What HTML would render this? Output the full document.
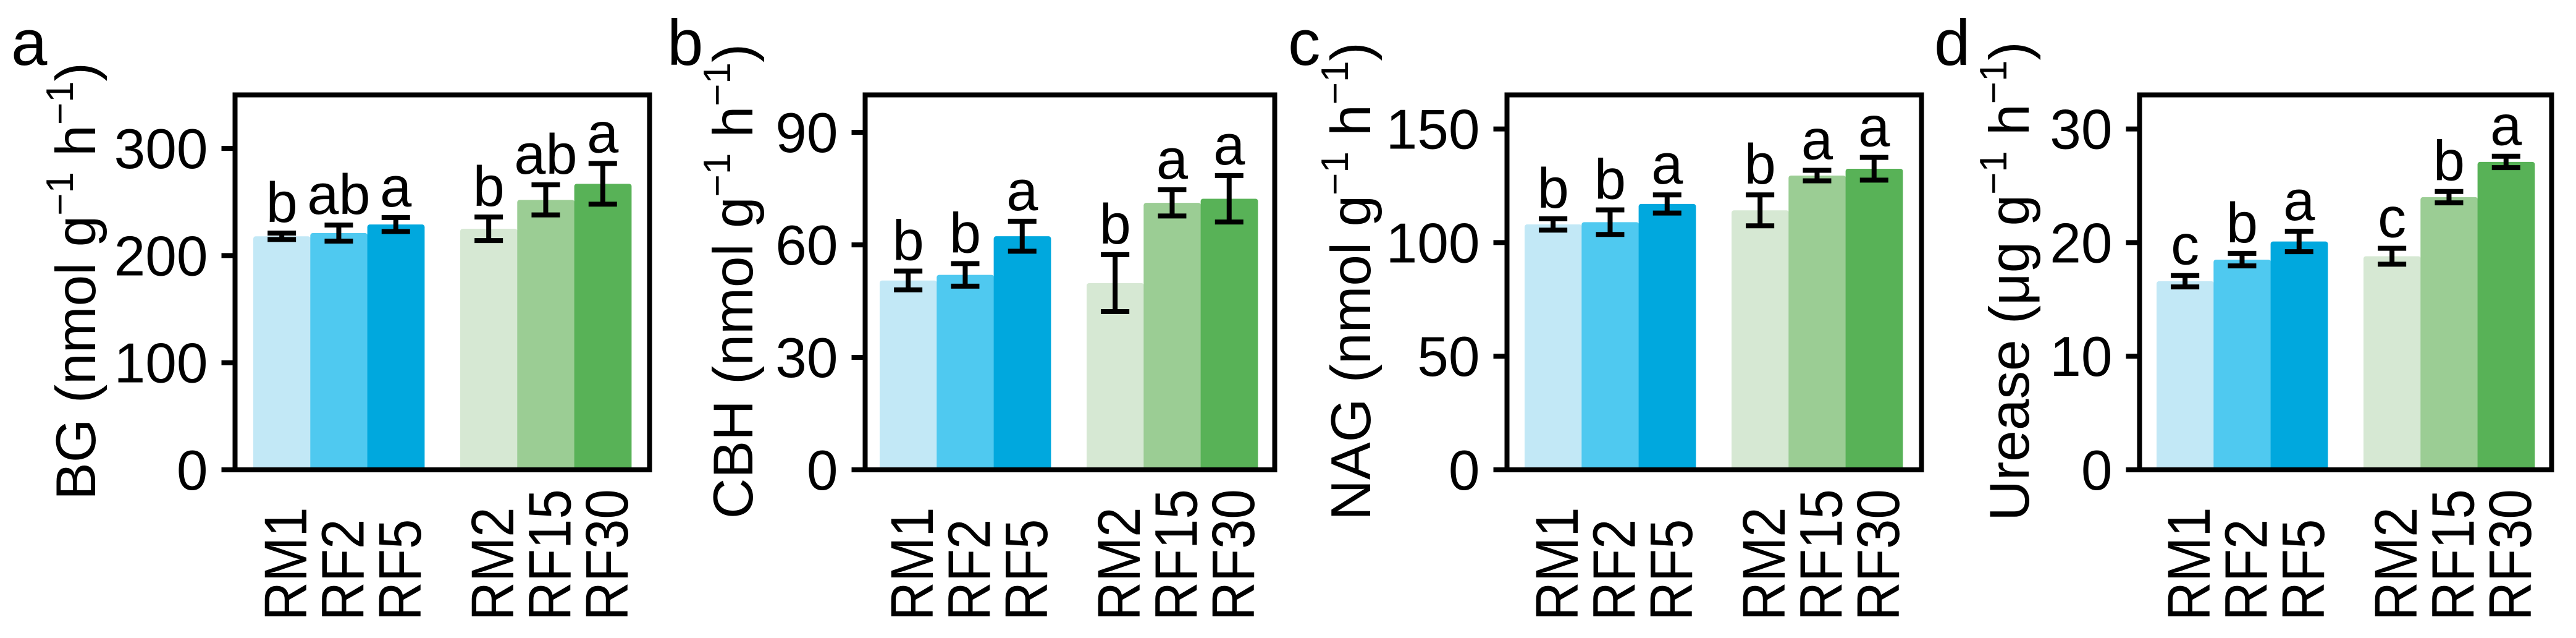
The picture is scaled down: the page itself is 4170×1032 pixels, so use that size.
<!DOCTYPE html>
<html><head><meta charset="utf-8">
<style>
html,body{margin:0;padding:0;background:#fff;}
svg{display:block;}
text{font-family:"Liberation Sans",Arial,sans-serif;fill:#000;}
</style></head>
<body>
<svg id="fig" width="4170" height="1032" viewBox="0 0 4170 1032" xmlns="http://www.w3.org/2000/svg"></svg>
<script>
const categories = ["RM1","RF2","RF5","RM2","RF15","RF30"];
const colors = ["#c2e8f6","#4fc9f0","#00a8de","#d6e8d3","#9bcd94","#58b257"];
const bgValues = [218,221,229,225,252,267];
const bgErrors = [3,7.5,6.5,11,14,19];
const bgLetters = ["b","ab","a","b","ab","a"];
const bgTicks = [0,100,200,300];
const cbhValues = [50.5,52,62.3,49.8,71.2,72.3];
const cbhErrors = [2.5,3,4,7.6,3.5,6.2];
const cbhLetters = ["b","b","a","b","a","a"];
const cbhTicks = [0,30,60,90];
const nagValues = [108,109,117,114.2,129.5,132.5];
const nagErrors = [2.5,5.4,4,6.8,2.3,5];
const nagLetters = ["b","b","a","b","a","a"];
const nagTicks = [0,50,100,150];
const ureValues = [16.6,18.5,20.1,18.8,24,27.1];
const ureErrors = [0.5,0.55,0.9,0.7,0.5,0.5];
const ureLetters = ["c","b","a","c","b","a"];
const ureTicks = [0,10,20,30];

const panels = [
 {id:"a", letter:"a", title:"BG (nmol g", unitsPre:"", vals:bgValues, errs:bgErrors, lets:bgLetters, ticks:bgTicks, ymax:350, fl:380.5, fr:1051.5, bx:410, lx:18, tx:154},
 {id:"b", letter:"b", title:"CBH (nmol g", vals:cbhValues, errs:cbhErrors, lets:cbhLetters, ticks:cbhTicks, ymax:100, fl:1400.5, fr:2063.5, bx:1424, lx:1080, tx:1218},
 {id:"c", letter:"c", title:"NAG (nmol g", vals:nagValues, errs:nagErrors, lets:nagLetters, ticks:nagTicks, ymax:165, fl:2439.5, fr:3110.5, bx:2468, lx:2085, tx:2218},
 {id:"d", letter:"d", title:"Urease (\u03bcg g", vals:ureValues, errs:ureErrors, lets:ureLetters, ticks:ureTicks, ymax:33, fl:3463.5, fr:4130.5, bx:3491, lx:3131, tx:3284}
];
const NS="http://www.w3.org/2000/svg";
const svg=document.getElementById('fig');
function mk(tag,attrs,parent){const e=document.createElementNS(NS,tag);for(const k in attrs)e.setAttribute(k,attrs[k]);(parent||svg).appendChild(e);return e;}
const Y0=760, YT=153.5, BW=92.3, GAP2=335;
panels.forEach(p=>{
  const g=mk('g',{});
  
  
  const y=v=>Y0-(v/p.ymax)*(Y0-YT);
  const xOf=i=>p.bx+(i<3?i*BW:GAP2+(i-3)*BW);
  // bars
  p.vals.forEach((v,i)=>{
    const r=mk('rect',{x:xOf(i),y:y(v),width:BW+0.5,height:Y0-y(v),fill:colors[i],rx:4},g);
    
    
  });
  // error bars + letters
  p.vals.forEach((v,i)=>{
    const cx=xOf(i)+BW/2, t=y(v+p.errs[i]), b=y(v-p.errs[i]);
    const e=mk('path',{d:`M${cx},${t}V${b}M${cx-23},${t}H${cx+23}M${cx-23},${b}H${cx+23}`,stroke:'#000','stroke-width':8,fill:'none'},g);
    
    
    const l=mk('text',{x:cx,y:t-18,'font-size':92,'text-anchor':'middle'},g);
    l.textContent=p.lets[i];
    
    
    const xl=mk('text',{transform:`translate(${cx+40},1004) rotate(-90) scale(1,1.12)`,'font-size':87},g);
    xl.textContent=categories[i];
    
    
  });
  // frame
  const f=mk('rect',{x:p.fl,y:YT,width:p.fr-p.fl,height:Y0-YT,fill:'none',stroke:'#000','stroke-width':8},g);
  
  
  p.ticks.forEach(tv=>{
    const ty=y(tv);
    const tk=mk('line',{x1:p.fl-22,x2:p.fl,y1:ty,y2:ty,stroke:'#000','stroke-width':8},g);
    
    
    const tl=mk('text',{x:p.fl-44,y:ty+32,'font-size':91,'text-anchor':'end'},g);
    tl.textContent=tv;
    
    
  });
  // y title
  const tt=mk('text',{transform:`translate(${p.tx},455) rotate(-90)`,'font-size':91,'text-anchor':'middle'},g);
  
  
  const parts=[[p.title,0,91],["\u22121",-36,62],[" h",36,91],["\u22121",-36,62],[")",36,91]];
  parts.forEach(([s,dy,fs])=>{const ts=mk('tspan',{dy:dy,'font-size':fs},tt);ts.textContent=s;});
  const pl=mk('text',{x:p.lx,y:105,'font-size':105},g);
  pl.textContent=p.letter;
  
  
});
</script>
</body></html>
